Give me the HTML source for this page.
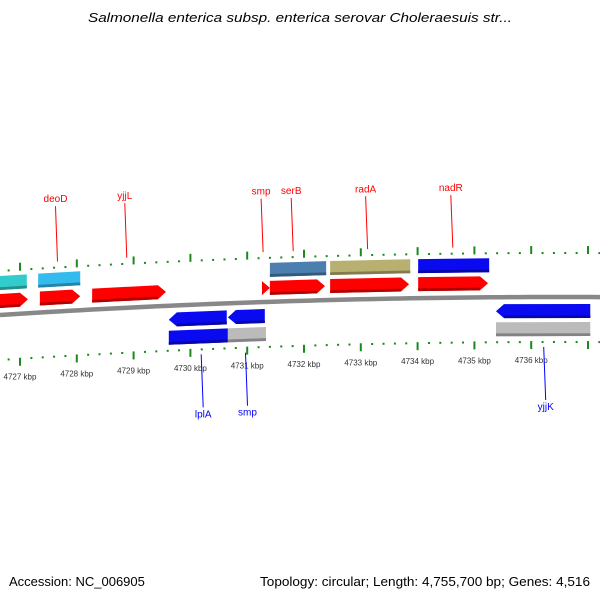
<!DOCTYPE html>
<html><head><meta charset="utf-8"><style>
body{margin:0;background:#fff}
svg{display:block;font-family:"Liberation Sans",sans-serif}
</style></head><body>
<svg id="map" width="600" height="600" viewBox="0 0 600 600" xmlns="http://www.w3.org/2000/svg">
<text x="88" y="22" textLength="424" lengthAdjust="spacingAndGlyphs" font-size="13" font-style="italic" fill="#000">Salmonella enterica subsp. enterica serovar Choleraesuis str...</text>
<text x="9" y="586" font-size="13" fill="#000">Accession: NC_006905</text>
<text x="260" y="586" textLength="330" lengthAdjust="spacingAndGlyphs" font-size="13" fill="#000">Topology: circular; Length: 4,755,700 bp; Genes: 4,516</text>
<g id="layer"></g>
</svg>
<script>
// data (kbp)
const fwdCDS = [[4726.5,4727.14],[4727.35,4728.06],[4728.27,4729.57],[4731.26,4731.40],[4731.40,4732.37],[4732.46,4733.85],[4734.01,4735.24]];
const upperStarts = [4726.5,4727.32,4731.40,4732.46,4734.01];
const upperEnds = [4727.12,4728.06,4732.39,4733.87,4735.26];
const upperColors = ["#33cccc","#33bbee","#4a7fb0","#b8b070","#0a0af0"];
const revCDS = [[4729.62,4730.64],[4730.66,4731.31],[4735.38,4737.04]];
const lowerStarts = [4729.62,4730.66,4735.38];
const lowerEnds = [4730.66,4731.33,4737.04];
const lowerColors = ["#0a0af0","#bbbbbb","#bbbbbb"];
const tickKbp = [4727,4728,4729,4730,4731,4732,4733,4734,4735,4736];
const topLabels = ["deoD","yjjL","smp","serB","radA","nadR"];
const topLabelKbp = [4727.66,4728.88,4731.28,4731.81,4733.12,4734.62];
const botLabels = ["lplA","smp","yjjK"];
const botLabelKbp = [4730.19,4730.97,4736.22];

const X = kb => 20 + (kb-4727)*56.8;
const Y = x => 297 + 0.0000574*(x-560)*(x-560);
const g = document.getElementById('layer');
const NS = "http://www.w3.org/2000/svg";
function mk(tag, attrs){const e=document.createElementNS(NS,tag);for(const k in attrs)e.setAttribute(k,attrs[k]);g.appendChild(e);return e;}
function shade(c,f){const n=parseInt(c.slice(1),16);let r=n>>16,gg=(n>>8)&255,b=n&255;r=Math.round(r*f);gg=Math.round(gg*f);b=Math.round(b*f);return `rgb(${r},${gg},${b})`;}
function band(s,e,o1,o2,color,dir,name){
  const x1=X(s),x2=X(e);const L=8;
  let pts;
  if(dir===1){const xa=Math.max(x1,x2-L);
    pts=[[x1,Y(x1)+o1],[xa,Y(xa)+o1],[x2,Y(x2)+(o1+o2)/2],[xa,Y(xa)+o2],[x1,Y(x1)+o2]];}
  else if(dir===-1){const xa=Math.min(x2,x1+L);
    pts=[[x1,Y(x1)+(o1+o2)/2],[xa,Y(xa)+o1],[x2,Y(x2)+o1],[x2,Y(x2)+o2],[xa,Y(xa)+o2]];}
  else pts=[[x1,Y(x1)+o1],[x2,Y(x2)+o1],[x2,Y(x2)+o2],[x1,Y(x1)+o2]];
  const p=mk('polygon',{points:pts.map(q=>q.join(',')).join(' '),fill:color});
  
  
  const h=o2-o1, ob=o2-h*0.2;
  const xs1=dir===-1?Math.min(x2,x1+L):x1, xs2=dir===1?Math.max(x1,x2-L):x2;
  const s2=mk('polygon',{points:`${xs1},${Y(xs1)+ob} ${xs2},${Y(xs2)+ob} ${xs2},${Y(xs2)+o2} ${xs1},${Y(xs1)+o2}`,fill:shade(color,0.7)});
  
  
}
let d="";for(let x=0;x<=600;x+=10)d+=(x?"L":"M")+x+","+Y(x);
const bb=mk('path',{d:d,stroke:"#888",'stroke-width':4.5,fill:"none"});


for(let k=4726.4;k<=4737.6;k+=0.2){
  const kr=Math.round(k*10)/10;const x=X(kr);if(x<0||x>600)continue;
  const major=Math.abs(kr-Math.round(kr))<0.01;
  [-44,44].forEach(o=>{
    const len=major?8:2;
    const y0=o<0?Y(x)+o-len+1:Y(x)+o;
    const t=mk('rect',{x:x-1,y:y0,width:2,height:len,fill:"#1a8a1a"});
    
    
  });
}
tickKbp.forEach(k=>{const x=X(k);
  const t=mk('text',{x:x,y:Y(x)+66,'font-size':8,'text-anchor':'middle',fill:"#333"});
  t.textContent=k+" kbp";
  
  
});
fwdCDS.forEach((f,i)=>band(f[0],f[1],-21,-7,"#ff0000",1,'forward-cds'));
upperStarts.forEach((s,i)=>band(s,upperEnds[i],-39,-25,upperColors[i],0,'forward-feature'));
revCDS.forEach(f=>band(f[0],f[1],7,21,"#0a0af0",-1,'reverse-cds'));
lowerStarts.forEach((s,i)=>band(s,lowerEnds[i],25,39,lowerColors[i],0,'reverse-feature'));
topLabels.forEach((n,i)=>{const x=X(topLabelKbp[i]);const ty=190+ (Y(x)-300)*0.8;
  const l=mk('line',{x1:x-2,y1:ty+7,x2:x,y2:Y(x)-50,stroke:"#ff0000",'stroke-width':1});
  
  
  const t=mk('text',{x:x-2,y:ty+3,'font-size':10,'text-anchor':'middle',fill:"#ff0000"});
  t.textContent=n;
  
  
});
botLabels.forEach((n,i)=>{const x=X(botLabelKbp[i]);
  const l=mk('line',{x1:x,y1:Y(x)+50,x2:x+2,y2:Y(x)+103,stroke:"#0000ff",'stroke-width':1});
  
  
  const t=mk('text',{x:x+2,y:Y(x)+113,'font-size':10,'text-anchor':'middle',fill:"#0000ff"});
  t.textContent=n;
  
  
});
</script>
</body></html>
